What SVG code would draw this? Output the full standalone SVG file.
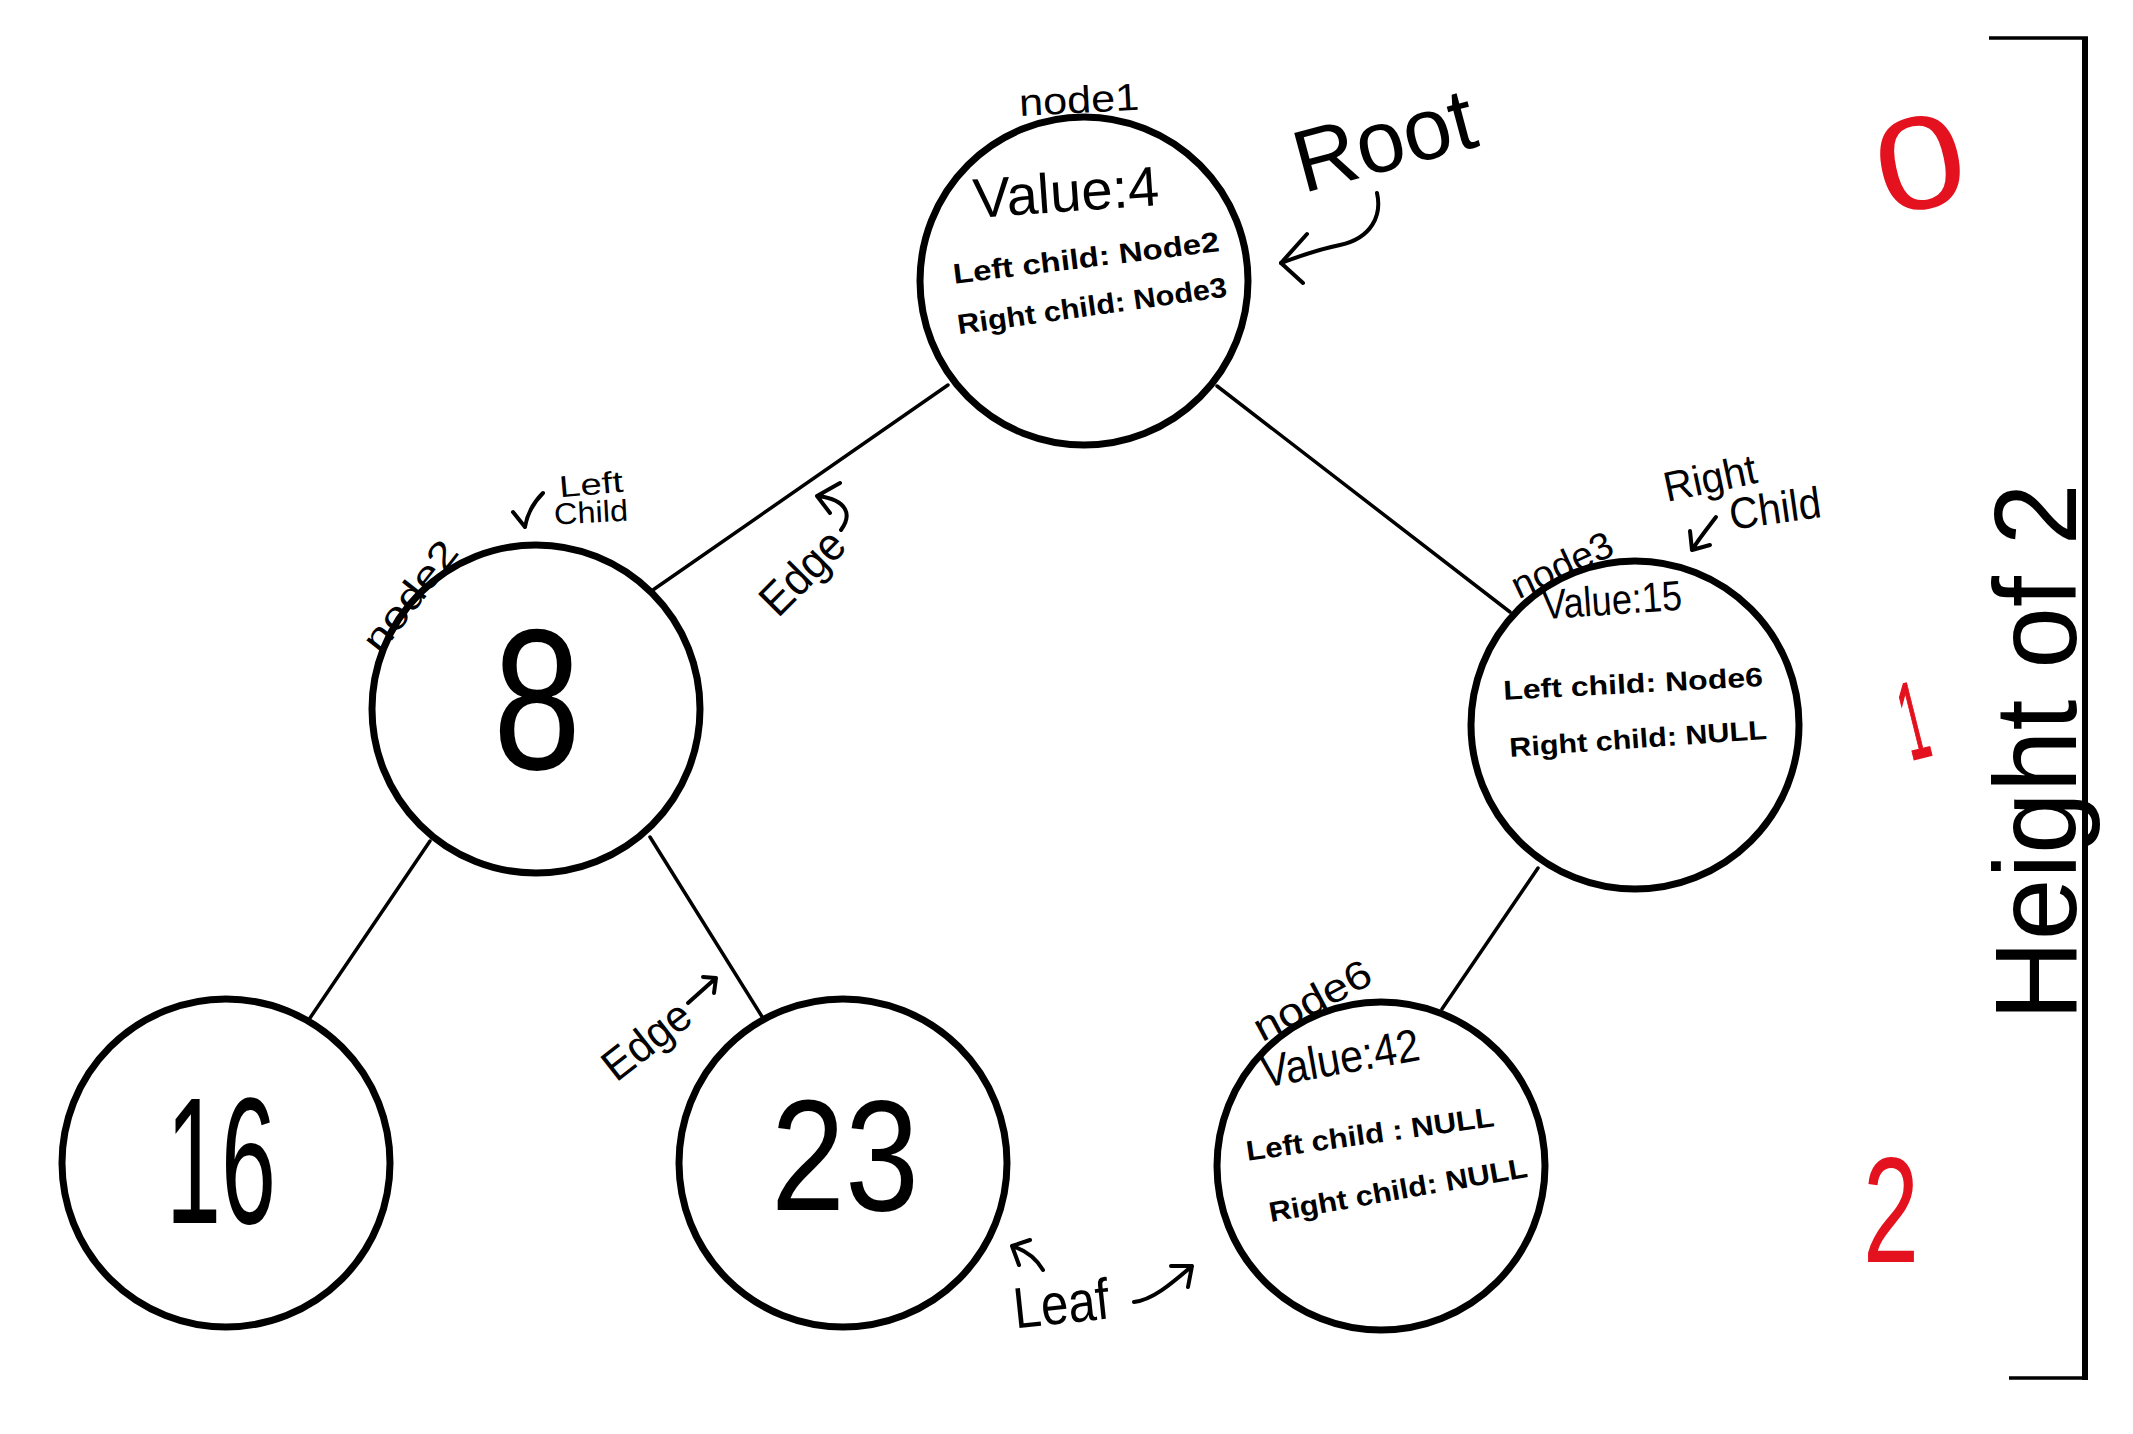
<svg xmlns="http://www.w3.org/2000/svg" width="2133" height="1434" viewBox="0 0 2133 1434">
<style>
.node{fill:#fff;stroke:#000;stroke-width:7}
.edge{stroke:#000;stroke-width:3.5;fill:none;stroke-linecap:round}
.pen{stroke:#000;stroke-width:4;fill:none;stroke-linecap:round;stroke-linejoin:round}
text{font-family:"Liberation Sans","DejaVu Sans",sans-serif;fill:#000;text-anchor:middle;dominant-baseline:central}
.b{font-weight:bold}
.red{fill:#e3121e}
</style>
<rect width="2133" height="1434" fill="#fff"/>
<g id="connectors">
<line class="edge" x1="948" y1="385" x2="650" y2="592"/>
<line class="edge" x1="1217" y1="386" x2="1510" y2="612"/>
<line class="edge" x1="430" y1="841" x2="310" y2="1018"/>
<line class="edge" x1="650" y1="837" x2="766" y2="1023"/>
<line class="edge" x1="1538" y1="868" x2="1442" y2="1009"/>
</g>
<g id="node1">
<circle class="node" cx="1084" cy="281" r="164"/>
<text x="1079" y="100" font-size="38" textLength="120" lengthAdjust="spacingAndGlyphs" transform="rotate(-3 1079 100)">node1</text>
<text x="1066" y="192" font-size="56" textLength="186" lengthAdjust="spacingAndGlyphs" transform="rotate(-4 1066 192)">Value:4</text>
<text class="b" x="1086" y="258" font-size="28" textLength="268" lengthAdjust="spacingAndGlyphs" transform="rotate(-7 1086 258)">Left child: Node2</text>
<text class="b" x="1092" y="306" font-size="28" textLength="272" lengthAdjust="spacingAndGlyphs" transform="rotate(-8 1092 306)">Right child: Node3</text>
</g>
<g id="root-label">
<text x="1384" y="140" font-size="88" textLength="184" lengthAdjust="spacingAndGlyphs" transform="rotate(-15 1384 140)">Root</text>
<path class="pen" d="M1377 193 C1382 215 1372 238 1340 245 C1315 250 1295 258 1281 263"/>
<path class="pen" d="M1307 234 L1281 263 L1303 283"/>
</g>
<g id="node2">
<circle class="node" cx="536" cy="709" r="164"/>
<text x="537" y="699" font-size="200" textLength="88" lengthAdjust="spacingAndGlyphs">8</text>
<text x="410" y="596" font-size="38" textLength="130" lengthAdjust="spacingAndGlyphs" transform="rotate(-52 410 596)">node2</text>
<text x="591" y="484" font-size="30" textLength="64" lengthAdjust="spacingAndGlyphs" transform="rotate(-5 591 484)">Left</text>
<text x="591" y="512" font-size="30" textLength="74" lengthAdjust="spacingAndGlyphs" transform="rotate(-3 591 512)">Child</text>
<path class="pen" d="M543 493 C533 503 527 515 525 527 M513 512 L525 527"/>
</g>
<g id="edge-label-1">
<text x="802" y="572" font-size="46" textLength="100" lengthAdjust="spacingAndGlyphs" transform="rotate(-45 802 572)">Edge</text>
<path class="pen" d="M841 530 C852 515 848 500 818 496 M840 483 L817 496 L830 513"/>
</g>
<g id="node3">
<circle class="node" cx="1635" cy="725" r="164"/>
<text x="1562" y="565" font-size="38" textLength="108" lengthAdjust="spacingAndGlyphs" transform="rotate(-25 1562 565)">node3</text>
<text x="1612" y="600" font-size="42" textLength="140" lengthAdjust="spacingAndGlyphs" transform="rotate(-4 1612 600)">Value:15</text>
<text class="b" x="1633" y="684" font-size="27" textLength="260" lengthAdjust="spacingAndGlyphs" transform="rotate(-3 1633 684)">Left child: Node6</text>
<text class="b" x="1638" y="739" font-size="27" textLength="258" lengthAdjust="spacingAndGlyphs" transform="rotate(-4 1638 739)">Right child: NULL</text>
<text x="1710" y="478" font-size="42" textLength="94" lengthAdjust="spacingAndGlyphs" transform="rotate(-12 1710 478)">Right</text>
<text x="1775" y="508" font-size="44" textLength="92" lengthAdjust="spacingAndGlyphs" transform="rotate(-8 1775 508)">Child</text>
<path class="pen" d="M1716 517 C1706 530 1698 540 1692 550 M1690 531 L1692 550 L1710 545"/>
</g>
<g id="node4">
<circle class="node" cx="226" cy="1163" r="164"/>
<text x="221" y="1160" font-size="180" textLength="110" lengthAdjust="spacingAndGlyphs">16</text>
</g>
<g id="node5">
<circle class="node" cx="843" cy="1163" r="164"/>
<text x="845" y="1155" font-size="158" textLength="148" lengthAdjust="spacingAndGlyphs">23</text>
</g>
<g id="edge-label-2">
<text x="646" y="1040" font-size="44" textLength="100" lengthAdjust="spacingAndGlyphs" transform="rotate(-38 646 1040)">Edge</text>
<path class="pen" d="M688 1003 L716 978 M703 977 L716 978 L714 993"/>
</g>
<g id="node6">
<circle class="node" cx="1381" cy="1166" r="164"/>
<text x="1312" y="1000" font-size="40" textLength="128" lengthAdjust="spacingAndGlyphs" transform="rotate(-28 1312 1000)">node6</text>
<text x="1340" y="1058" font-size="46" textLength="160" lengthAdjust="spacingAndGlyphs" transform="rotate(-10 1340 1058)">Value:42</text>
<text class="b" x="1370" y="1134" font-size="28" textLength="250" lengthAdjust="spacingAndGlyphs" transform="rotate(-8 1370 1134)">Left child : NULL</text>
<text class="b" x="1398" y="1190" font-size="28" textLength="262" lengthAdjust="spacingAndGlyphs" transform="rotate(-10 1398 1190)">Right child: NULL</text>
</g>
<g id="leaf-label">
<text x="1061" y="1303" font-size="58" textLength="96" lengthAdjust="spacingAndGlyphs" transform="rotate(-6 1061 1303)">Leaf</text>
<path class="pen" d="M1043 1270 C1036 1258 1025 1250 1012 1246 M1012 1246 L1019 1265 M1012 1246 L1030 1240"/>
<path class="pen" d="M1134 1302 C1152 1300 1170 1285 1192 1266 M1171 1266 L1192 1266 L1188 1287"/>
</g>
<g id="height-scale">
<line x1="2085" y1="38" x2="2085" y2="1380" stroke="#000" stroke-width="6"/>
<line x1="1989" y1="38" x2="2088" y2="38" stroke="#000" stroke-width="3.5"/>
<line x1="2009" y1="1378" x2="2088" y2="1378" stroke="#000" stroke-width="3.5"/>
<text x="2036" y="752" font-size="116" textLength="537" lengthAdjust="spacingAndGlyphs" transform="rotate(-90 2036 752)">Height of 2</text>
<text class="red" x="1920" y="163" font-size="132" textLength="90" lengthAdjust="spacingAndGlyphs" transform="rotate(-12 1920 163)">0</text>
<text class="red" x="1913" y="720" font-size="110" textLength="24" lengthAdjust="spacingAndGlyphs" stroke="#e3121e" stroke-width="2" transform="rotate(-14 1913 720)">1</text>
<text class="red" x="1891" y="1210" font-size="150" textLength="56" lengthAdjust="spacingAndGlyphs">2</text>
</g>
</svg>
